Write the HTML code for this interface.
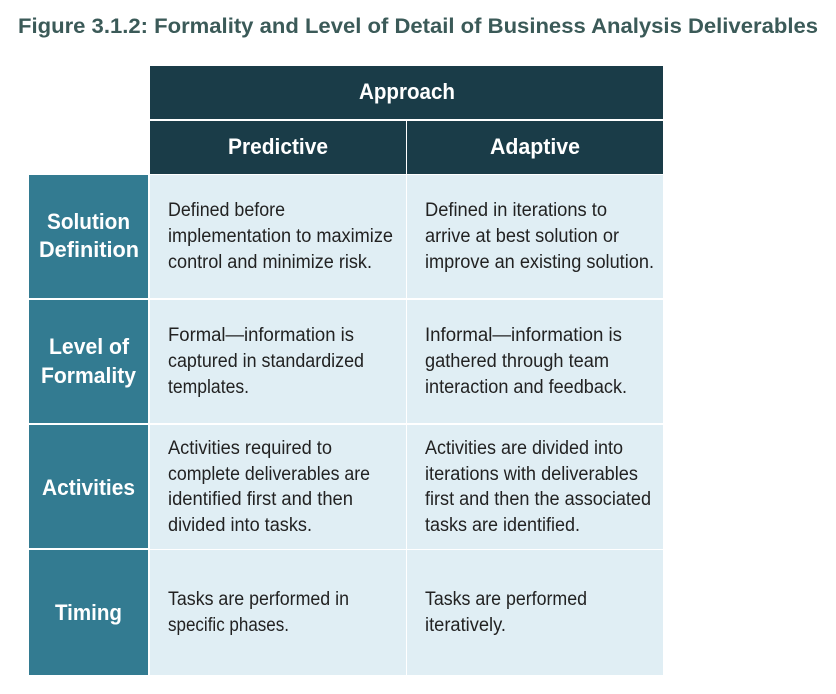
<!DOCTYPE html>
<html><head><meta charset="utf-8"><style>html,body{margin:0;padding:0;background:#fff}svg{display:block}</style></head>
<body>
<svg width="836" height="694" viewBox="0 0 836 694" xmlns="http://www.w3.org/2000/svg" font-family="Liberation Sans, sans-serif">
<text x="18" y="33" font-size="21" font-weight="bold" fill="#3b5a58" textLength="800" lengthAdjust="spacingAndGlyphs">Figure 3.1.2: Formality and Level of Detail of Business Analysis Deliverables</text>
<rect x="150" y="66" width="513" height="53" fill="#1a3c48"/>
<rect x="150" y="121" width="256" height="53" fill="#1a3c48"/>
<rect x="407" y="121" width="256" height="53" fill="#1a3c48"/>
<g fill="#337b91">
<rect x="29" y="175" width="119" height="123"/>
<rect x="29" y="300" width="119" height="123"/>
<rect x="29" y="425" width="119" height="123"/>
<rect x="29" y="550" width="119" height="125"/>
</g>
<g fill="#e0eef4">
<rect x="150" y="175" width="256" height="123"/><rect x="407" y="175" width="256" height="123"/>
<rect x="150" y="300" width="256" height="123"/><rect x="407" y="300" width="256" height="123"/>
<rect x="150" y="425" width="256" height="124"/><rect x="407" y="425" width="256" height="124"/>
<rect x="150" y="550" width="256" height="125"/><rect x="407" y="550" width="256" height="125"/>
</g>
<g fill="#fff" font-weight="bold" font-size="22">
<text x="359" y="99" textLength="96" lengthAdjust="spacingAndGlyphs">Approach</text>
<text x="228" y="154" textLength="100" lengthAdjust="spacingAndGlyphs">Predictive</text>
<text x="490" y="154" textLength="90" lengthAdjust="spacingAndGlyphs">Adaptive</text>
<text x="47" y="229" textLength="83" lengthAdjust="spacingAndGlyphs">Solution</text>
<text x="39" y="257" textLength="100" lengthAdjust="spacingAndGlyphs">Definition</text>
<text x="49" y="354" textLength="80" lengthAdjust="spacingAndGlyphs">Level of</text>
<text x="41" y="383" textLength="95" lengthAdjust="spacingAndGlyphs">Formality</text>
<text x="42" y="495" textLength="93" lengthAdjust="spacingAndGlyphs">Activities</text>
<text x="55" y="620" textLength="67" lengthAdjust="spacingAndGlyphs">Timing</text>
</g>
<g fill="#222" font-size="19">
<text x="168" y="216" textLength="117" lengthAdjust="spacingAndGlyphs">Defined before</text>
<text x="168" y="242" textLength="225" lengthAdjust="spacingAndGlyphs">implementation to maximize</text>
<text x="168" y="268" textLength="204" lengthAdjust="spacingAndGlyphs">control and minimize risk.</text>
<text x="425" y="216" textLength="182" lengthAdjust="spacingAndGlyphs">Defined in iterations to</text>
<text x="425" y="242" textLength="194" lengthAdjust="spacingAndGlyphs">arrive at best solution or</text>
<text x="425" y="268" textLength="229" lengthAdjust="spacingAndGlyphs">improve an existing solution.</text>
<text x="168" y="341" textLength="186" lengthAdjust="spacingAndGlyphs">Formal—information is</text>
<text x="168" y="367" textLength="196" lengthAdjust="spacingAndGlyphs">captured in standardized</text>
<text x="168" y="393" textLength="81" lengthAdjust="spacingAndGlyphs">templates.</text>
<text x="425" y="341" textLength="197" lengthAdjust="spacingAndGlyphs">Informal—information is</text>
<text x="425" y="367" textLength="184" lengthAdjust="spacingAndGlyphs">gathered through team</text>
<text x="425" y="393" textLength="202" lengthAdjust="spacingAndGlyphs">interaction and feedback.</text>
<text x="168" y="454" textLength="164" lengthAdjust="spacingAndGlyphs">Activities required to</text>
<text x="168" y="480" textLength="202" lengthAdjust="spacingAndGlyphs">complete deliverables are</text>
<text x="168" y="505" textLength="185" lengthAdjust="spacingAndGlyphs">identified first and then</text>
<text x="168" y="531" textLength="144" lengthAdjust="spacingAndGlyphs">divided into tasks.</text>
<text x="425" y="454" textLength="198" lengthAdjust="spacingAndGlyphs">Activities are divided into</text>
<text x="425" y="480" textLength="213" lengthAdjust="spacingAndGlyphs">iterations with deliverables</text>
<text x="425" y="505" textLength="226" lengthAdjust="spacingAndGlyphs">first and then the associated</text>
<text x="425" y="531" textLength="155" lengthAdjust="spacingAndGlyphs">tasks are identified.</text>
<text x="168" y="605" textLength="181" lengthAdjust="spacingAndGlyphs">Tasks are performed in</text>
<text x="168" y="631" textLength="121" lengthAdjust="spacingAndGlyphs">specific phases.</text>
<text x="425" y="605" textLength="162" lengthAdjust="spacingAndGlyphs">Tasks are performed</text>
<text x="425" y="631" textLength="81" lengthAdjust="spacingAndGlyphs">iteratively.</text>
</g>
</svg>
</body></html>
